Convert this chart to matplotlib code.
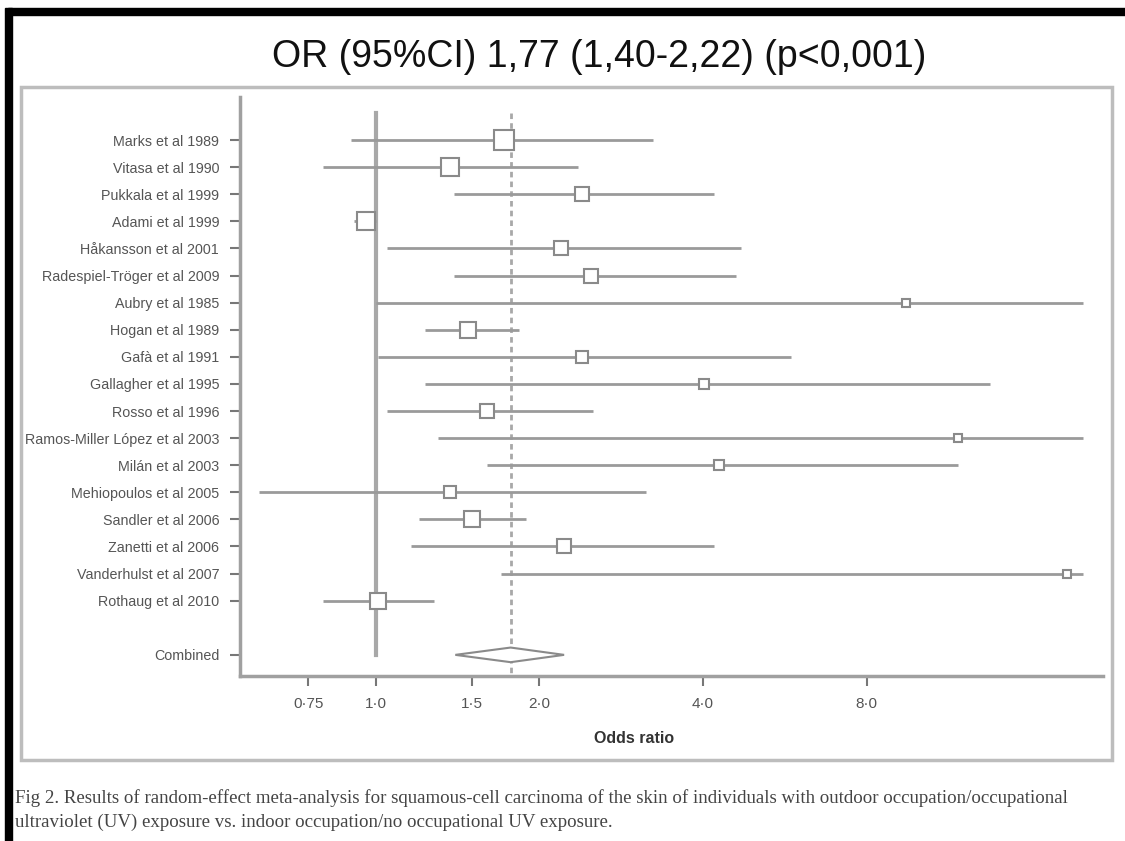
import matplotlib
matplotlib.use("Agg")
import matplotlib.pyplot as plt
import numpy as np
from matplotlib.patches import Polygon, Rectangle

plt.rcParams["font.family"] = ["Liberation Sans", "DejaVu Sans"]

# study estimates (odds ratios, 95% CI)
studies = [
    "Marks et al 1989", "Vitasa et al 1990", "Pukkala et al 1999",
    "Adami et al 1999", "Håkansson et al 2001", "Radespiel-Tröger et al 2009",
    "Aubry et al 1985", "Hogan et al 1989", "Gafà et al 1991",
    "Gallagher et al 1995", "Rosso et al 1996", "Ramos-Miller López et al 2003",
    "Milán et al 2003", "Mehiopoulos et al 2005", "Sandler et al 2006",
    "Zanetti et al 2006", "Vanderhulst et al 2007", "Rothaug et al 2010",
]
or_est = [1.72, 1.37, 2.40, 0.96, 2.19, 2.49, 9.45, 1.48, 2.40,
          4.01, 1.60, 11.8, 4.28, 1.37, 1.50, 2.22, 18.7, 1.01]
ci_low = [0.90, 0.80, 1.39, 0.91, 1.05, 1.39, 1.00, 1.23, 1.01,
          1.23, 1.05, 1.30, 1.60, 0.61, 1.20, 1.16, 1.70, 0.80]
ci_high = [3.23, 2.35, 4.19, 1.00, 4.70, 4.60, 20.0, 1.83, 5.80,
           13.5, 2.51, 20.0, 11.8, 3.14, 1.89, 4.19, 20.0, 1.28]
weights = [20, 18, 14, 18, 13, 14, 8, 16, 12, 10, 14, 8, 10, 12, 16, 14, 8, 15]

pooled = 1.77
pooled_low = 1.40
pooled_high = 2.22

xticks = [0.75, 1.0, 1.5, 2.0, 4.0, 8.0]
xtick_labels = ["0·75", "1·0", "1·5", "2·0", "4·0", "8·0"]

title = "OR (95%CI) 1,77 (1,40-2,22) (p<0,001)"
caption = ("Fig 2. Results of random-effect meta-analysis for squamous-cell carcinoma "
           "of the skin of individuals with outdoor occupation/occupational\n"
           "ultraviolet (UV) exposure vs. indoor occupation/no occupational UV exposure.")

GREY = "#9a9a9a"
TXT = "#555555"

fig = plt.figure(figsize=(11.25, 8.41), dpi=100)
W, H = 1125, 841


def fx(px):
    return px / W


def fy(py):
    return 1 - py / H


# page decorations: black scan edges and grey panel frame
fig.patches.append(Rectangle((fx(8), fy(15)), 1, 7 / H, transform=fig.transFigure,
                             color="black", zorder=0))
fig.patches.append(Rectangle((fx(5), 0), 7 / W, fy(8), transform=fig.transFigure,
                             color="black", zorder=0))
fig.patches.append(Rectangle((fx(21), fy(760)), (1112 - 21) / W, (760 - 87) / H,
                             transform=fig.transFigure, fill=False,
                             edgecolor="#bdbdbd", lw=2.5, zorder=0))

ax = fig.add_axes([fx(240), fy(676), (1103 - 240) / W, (676 - 97) / H])
ax.set_xscale("log")
ax.set_xlim(0.562, 21.8)

n = len(studies)
rows = np.arange(n)
combined_row = n + 1
ax.set_ylim(combined_row + 0.78, -1.59)

for i in range(n):
    ax.plot([ci_low[i], ci_high[i]], [rows[i], rows[i]], color=GREY, lw=2,
            solid_capstyle="butt", zorder=2)
    ax.plot(or_est[i], rows[i], marker="s", markersize=weights[i] * 0.75,
            markerfacecolor="white", markeredgecolor="#8a8a8a",
            markeredgewidth=1.5, zorder=3)

ax.plot([1, 1], [-1.0, combined_row], color="#a8a8a8", lw=3, zorder=1)
ax.plot([pooled, pooled], [-1.0, combined_row + 0.78], color="#a8a8a8", lw=2,
        ls=(0, (2, 1.5)), zorder=1)

diamond = Polygon([[pooled_low, combined_row], [pooled, combined_row - 0.27],
                   [pooled_high, combined_row], [pooled, combined_row + 0.27]],
                  closed=True, facecolor="white", edgecolor="#8a8a8a", lw=1.5,
                  zorder=3)
ax.add_patch(diamond)

ax.set_yticks(list(rows) + [combined_row])
ax.set_yticklabels(studies + ["Combined"], fontsize=10.3, color=TXT)
ax.set_xticks(xticks)
ax.set_xticklabels(xtick_labels, fontsize=11, color=TXT)
ax.xaxis.set_minor_locator(matplotlib.ticker.NullLocator())
ax.tick_params(axis="both", direction="out", length=7, width=1.5, color="#777777",
               pad=8)
ax.tick_params(axis="x", pad=8)

for side in ("top", "right"):
    ax.spines[side].set_visible(False)
for side in ("left", "bottom"):
    ax.spines[side].set_color("#a0a0a0")
    ax.spines[side].set_linewidth(2.5)

ax.set_xlabel("Odds ratio", fontsize=11.5, fontweight="bold", color="#333333")
ax.xaxis.set_label_coords((634 - 240) / (1103 - 240), -0.095)

fig.text(fx(599), fy(57), title, ha="center", va="center", fontsize=27,
         color="#111111")
fig.text(fx(15), fy(810), caption, ha="left", va="center", fontsize=13.6,
         family=["Liberation Serif", "DejaVu Serif"], color="#444444",
         linespacing=1.45)

fig.savefig("out.png", dpi=100)
